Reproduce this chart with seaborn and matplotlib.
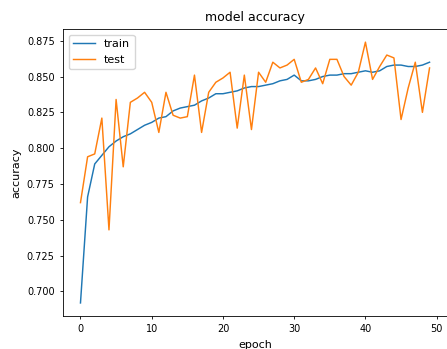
import matplotlib
matplotlib.use("Agg")
import matplotlib.pyplot as plt
import seaborn as sns
import pandas as pd

epochs = list(range(50))
train_acc = [0.692, 0.766, 0.789, 0.795, 0.801, 0.805, 0.808, 0.810, 0.813, 0.816,
             0.818, 0.821, 0.822, 0.826, 0.828, 0.829, 0.830, 0.833, 0.835, 0.838,
             0.838, 0.839, 0.840, 0.842, 0.843, 0.843, 0.844, 0.845, 0.847, 0.848,
             0.851, 0.847, 0.847, 0.848, 0.850, 0.851, 0.851, 0.852, 0.852, 0.853,
             0.854, 0.853, 0.854, 0.857, 0.858, 0.858, 0.857, 0.857, 0.858, 0.860]
test_acc = [0.762, 0.794, 0.796, 0.821, 0.743, 0.834, 0.787, 0.832, 0.835, 0.839,
            0.832, 0.811, 0.839, 0.823, 0.821, 0.822, 0.851, 0.811, 0.839, 0.846,
            0.849, 0.853, 0.814, 0.851, 0.813, 0.853, 0.846, 0.860, 0.856, 0.858,
            0.862, 0.846, 0.848, 0.856, 0.845, 0.862, 0.862, 0.850, 0.844, 0.853,
            0.874, 0.848, 0.857, 0.865, 0.863, 0.820, 0.842, 0.860, 0.825, 0.856]
series_labels = ["train", "test"]

plt.rcParams["font.size"] = 7
fig = plt.figure(figsize=(4.47, 3.49), dpi=100)
ax = fig.add_axes([0.141, 0.0946, 0.859, 0.822])

df = pd.DataFrame({"epoch": epochs, "train": train_acc, "test": test_acc})
sns.lineplot(data=df, x="epoch", y="train", ax=ax, label=series_labels[0],
             color="#1f77b4", linewidth=1.05)
sns.lineplot(data=df, x="epoch", y="test", ax=ax, label=series_labels[1],
             color="#ff7f0e", linewidth=1.05)

ax.set_title("model accuracy", fontsize=9)
ax.set_xlabel("epoch", fontsize=8)
ax.set_ylabel("accuracy", fontsize=8)
ax.set_xticks([0, 10, 20, 30, 40, 50])
ax.set_yticks([0.700, 0.725, 0.750, 0.775, 0.800, 0.825, 0.850, 0.875])
ax.tick_params(labelsize=7, length=2.5, width=0.6)
for s in ax.spines.values():
    s.set_linewidth(0.6)
ax.legend(loc="upper left", fontsize=8)

fig.savefig("out.png", dpi=100)
